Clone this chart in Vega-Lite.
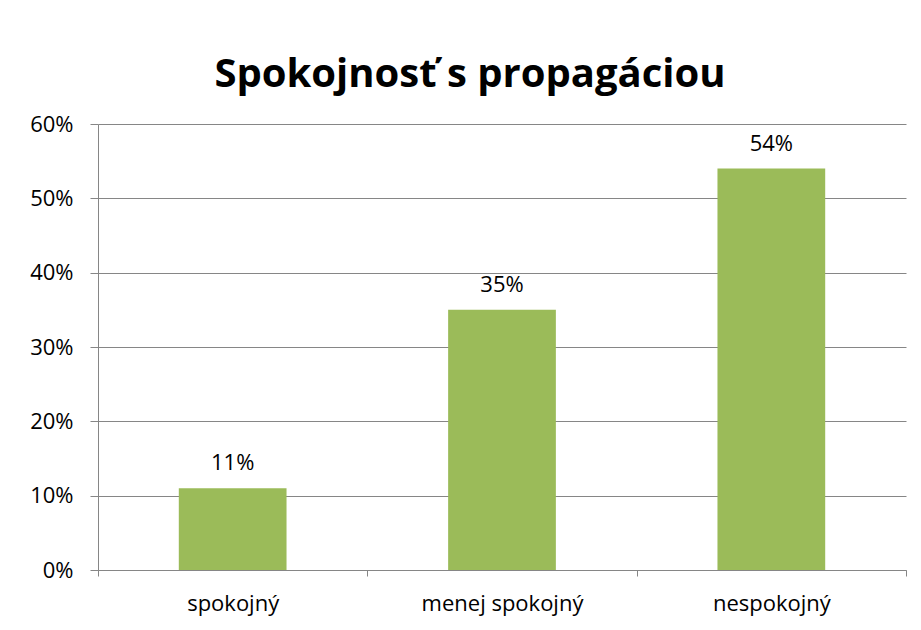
{
  "$schema": "https://vega.github.io/schema/vega-lite/v6.json",
  "autosize": {"type": "none"},
  "width": 808,
  "height": 446,
  "padding": {"left": 98, "top": 124, "right": 15, "bottom": 60},
  "background": "white",
  "title": {
    "text": "Spokojnosť s propagáciou",
    "fontSize": 40,
    "font": "Open Sans",
    "fontWeight": "bold",
    "color": "#000000",
    "anchor": "middle",
    "dx": -32,
    "offset": 18
  },
  "data": {
    "values": [
      {"kategoria": "spokojný", "podiel": 0.11},
      {"kategoria": "menej spokojný", "podiel": 0.35},
      {"kategoria": "nespokojný", "podiel": 0.54}
    ]
  },
  "encoding": {
    "x": {
      "field": "kategoria",
      "type": "nominal",
      "sort": null,
      "scale": {"paddingInner": 0, "paddingOuter": 0},
      "axis": {
        "title": null,
        "labelAngle": 0,
        "tickBand": "extent",
        "tickSize": 6,
        "labelPadding": 17,
        "labelFontSize": 22,
        "labelFont": "Open Sans",
        "labelColor": "#000000",
        "domainColor": "#868686",
        "tickColor": "#868686",
        "grid": false
      }
    },
    "y": {
      "field": "podiel",
      "type": "quantitative",
      "scale": {"domain": [0, 0.6]},
      "axis": {
        "title": null,
        "format": ".0%",
        "values": [0, 0.1, 0.2, 0.3, 0.4, 0.5, 0.6],
        "labelOverlap": false,
        "tickSize": 8,
        "labelPadding": 17,
        "labelFontSize": 22,
        "labelFont": "Open Sans",
        "labelColor": "#000000",
        "domainColor": "#868686",
        "tickColor": "#868686",
        "gridColor": "#868686",
        "gridOpacity": 1,
        "grid": true
      }
    }
  },
  "layer": [
    {"mark": {"type": "bar", "color": "#9BBB59", "width": {"band": 0.4}}},
    {
      "mark": {"type": "text", "dy": -25, "baseline": "middle", "fontSize": 22, "font": "Open Sans", "color": "#000000"},
      "encoding": {"text": {"field": "podiel", "type": "quantitative", "format": ".0%"}}
    }
  ],
  "config": {"view": {"stroke": null}}
}
